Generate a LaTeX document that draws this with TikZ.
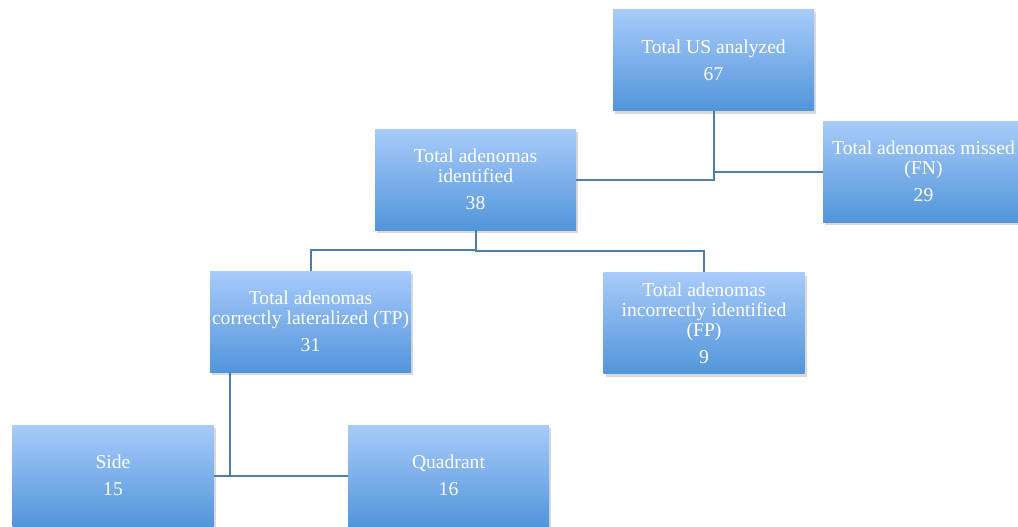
\documentclass[tikz,border=0pt]{standalone}
\usepackage{fontspec}
\setmainfont{Liberation Serif}
\usetikzlibrary{shadows}
\definecolor{boxtop}{RGB}{168,203,251}
\definecolor{boxbottom}{RGB}{82,149,218}
\definecolor{linkblue}{RGB}{79,124,168}
\begin{document}
\begin{tikzpicture}[x=1pt, y=-1pt,
    countbox/.style={rectangle, minimum width=201pt, minimum height=101pt,
      inner sep=0pt, align=center, text=white,
      top color=boxtop, bottom color=boxbottom,
      font=\fontsize{19.6}{20}\selectfont,
      drop shadow={shadow xshift=2pt, shadow yshift=-3pt, opacity=0.3}},
    link/.style={draw=linkblue, line width=2pt}]

  \useasboundingbox (0,0) rectangle (1018,527);

  % === Boxes ===
  \node[countbox] (total)  at (713.5,60)  {Total US analyzed\\[7pt]67};
  \node[countbox] (missed) at (923.5,171.5) {Total adenomas missed\\(FN)\\[7pt]29};
  \node[countbox] (ident)  at (475.5,179.5) {Total adenomas\\identified\\[7pt]38};
  \node[countbox] (tp)     at (310.5,321.5) {Total adenomas\\correctly lateralized (TP)\\[7pt]31};
  \node[countbox] (fp)     at (704,323)   {Total adenomas\\incorrectly identified\\(FP)\\[7pt]9};
  \node[countbox] (side)   at (113,475.5) {Side\\[7pt]15};
  \node[countbox] (quad)   at (448.5,475.5) {Quadrant\\[7pt]16};

  % === Connectors ===
  \draw[link] (total.south) |- (ident.east);
  \draw[link] (total.south |- missed.west) -- (missed.west);
  \draw[link] (ident.south) -- ++(0,20) -| (tp.north);
  \draw[link] (ident.south) -- ++(0,21) -| (fp.north);
  \draw[link] ([xshift=20pt]tp.south west) |- (side.east);
  \draw[link] (side.east) -- (quad.west);

\end{tikzpicture}
\end{document}
